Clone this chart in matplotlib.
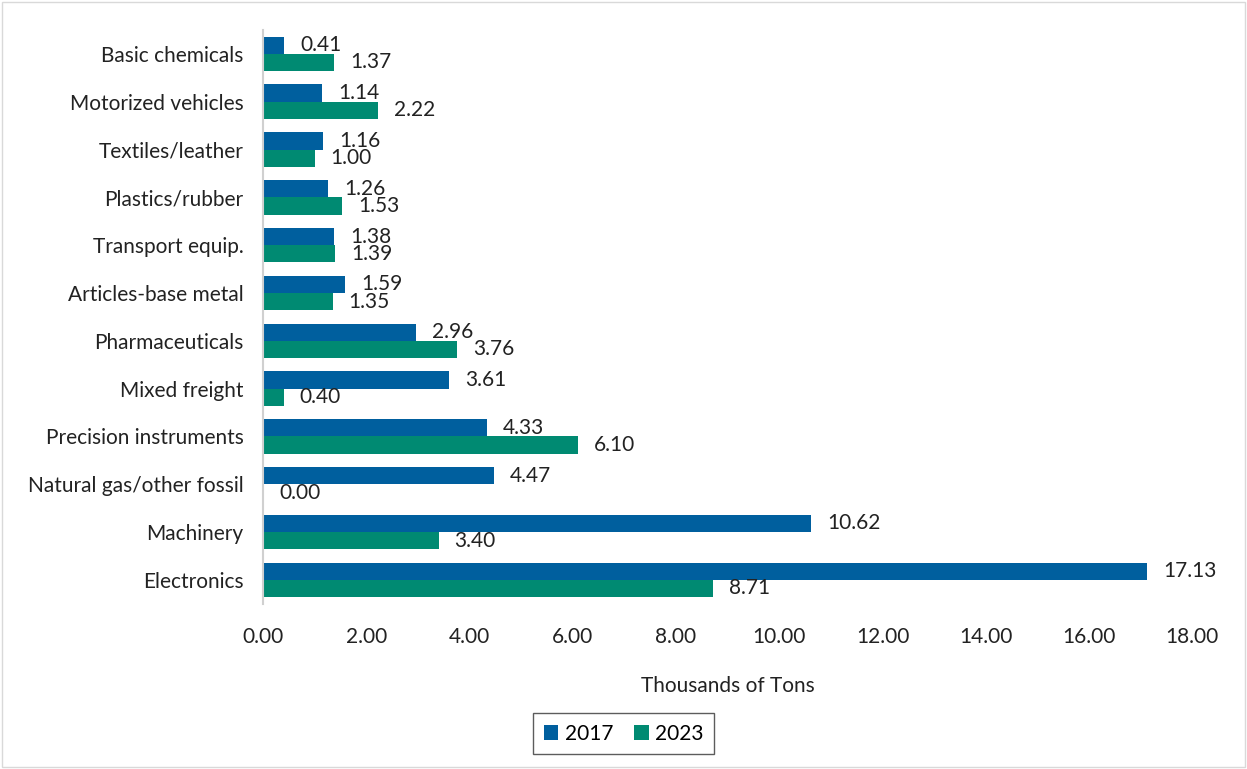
import numpy as np
import matplotlib.pyplot as plt
from matplotlib.patches import Rectangle

# data (thousands of tons), top to bottom as in the chart
categories = ['Basic chemicals', 'Motorized vehicles', 'Textiles/leather', 'Plastics/rubber',
              'Transport equip.', 'Articles-base metal', 'Pharmaceuticals', 'Mixed freight',
              'Precision instruments', 'Natural gas/other fossil', 'Machinery', 'Electronics']
vals_2017 = [0.41, 1.14, 1.16, 1.26, 1.38, 1.59, 2.96, 3.61, 4.33, 4.47, 10.62, 17.13]
vals_2023 = [1.37, 2.22, 1.00, 1.53, 1.39, 1.35, 3.76, 0.40, 6.10, 0.00, 3.40, 8.71]
x_ticks = [0, 2, 4, 6, 8, 10, 12, 14, 16, 18]

COL_2017 = '#005f9e'
COL_2023 = '#008a72'
FS = 15

plt.rcParams['font.family'] = ['Lato', 'DejaVu Sans']

fig = plt.figure(figsize=(12.47, 7.69), dpi=100)
ax = fig.add_axes([0.211, 0.215, 0.745, 0.746])

y = np.arange(len(categories))
h = 0.36
b1 = ax.barh(y - h / 2, vals_2017, height=h, color=COL_2017, label='2017')
b2 = ax.barh(y + h / 2, vals_2023, height=h, color=COL_2023, label='2023')

for bars, vals in ((b1, vals_2017), (b2, vals_2023)):
    for bar, v in zip(bars, vals):
        ax.annotate(f'{v:.2f}', (v, bar.get_y() + bar.get_height() / 2),
                    xytext=(11.5, 0), textcoords='offset points',
                    va='center', ha='left', fontsize=FS, color='#222222')

ax.set_ylim(len(categories) - 0.5, -0.5)
ax.set_xlim(0, 18)
ax.set_yticks(y)
ax.set_yticklabels(categories, fontsize=FS, color='#222222')
ax.set_xticks(x_ticks)
ax.set_xticklabels([f'{t:.2f}' for t in x_ticks], fontsize=FS, color='#222222')
ax.tick_params(axis='both', length=0)
ax.tick_params(axis='x', pad=17)
ax.tick_params(axis='y', pad=14)

for s in ('top', 'right', 'bottom'):
    ax.spines[s].set_visible(False)
ax.spines['left'].set_color('#d0d0d0')
ax.spines['left'].set_linewidth(1.5)

ax.set_xlabel('Thousands of Tons', fontsize=FS, color='#222222', labelpad=21)

fig.legend(handles=[b1, b2], loc='center', bbox_to_anchor=(0.5, 0.046), ncol=2,
           fontsize=FS, frameon=True, fancybox=False, edgecolor='#333333',
           handlelength=0.7, handleheight=0.7, handletextpad=0.3, columnspacing=1.0,
           borderpad=0.5)

fig.patches.append(Rectangle((0.002, 0.002), 0.996, 0.996, transform=fig.transFigure,
                             fill=False, edgecolor='#d9d9d9', linewidth=1))

fig.savefig('out.png', dpi=100, facecolor='white')
